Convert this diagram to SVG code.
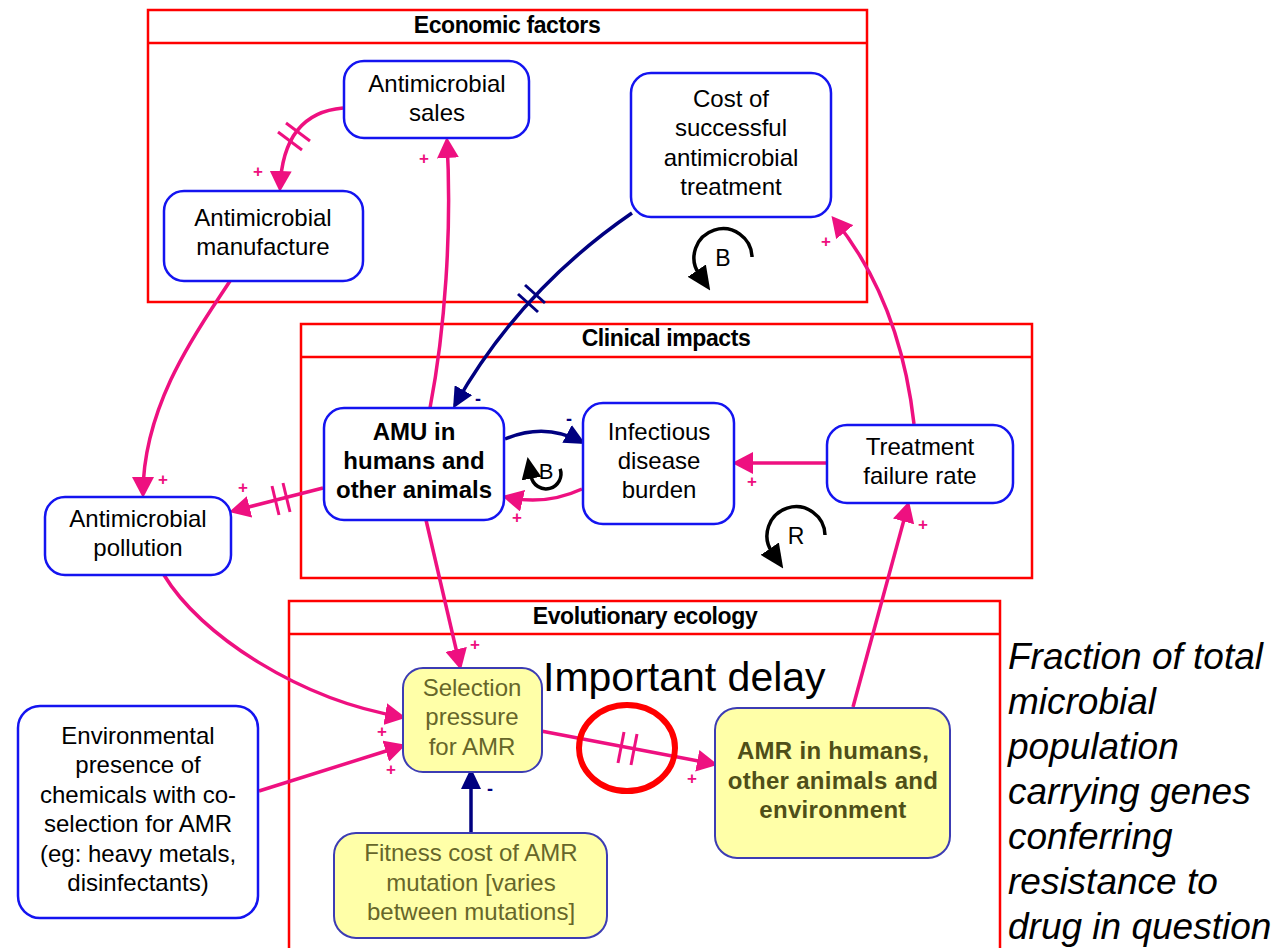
<svg xmlns="http://www.w3.org/2000/svg" width="1276" height="948" viewBox="0 0 1276 948">
<style>
.frame{fill:none;stroke:#FF0000;stroke-width:2.5}
.title{font-family:"Liberation Sans",Arial,sans-serif;font-size:23px;font-weight:bold;letter-spacing:-0.4px;text-anchor:middle;fill:#000}
.node{fill:#FFFFFF;stroke:#1414F0;stroke-width:2.5}
.ynode{fill:#FFFFA8;stroke:#3C3CB4;stroke-width:2}
.t{font-family:"Liberation Sans",Arial,sans-serif;font-size:24px;text-anchor:middle;fill:#000}
.tb{font-weight:bold}
.yt{fill:#66662A}
.ybt{fill:#4F4F18;font-weight:bold;letter-spacing:0.3px}
.pk{fill:none;stroke:#EE1080;stroke-width:3.5}
.nv{fill:none;stroke:#000080;stroke-width:3.5}
.hp{stroke:#EE1080;stroke-width:3}
.hn{stroke:#000080;stroke-width:3}
.loop{fill:none;stroke:#000;stroke-width:3.5}
.lt{font-family:"Liberation Sans",Arial,sans-serif;font-size:23px;text-anchor:middle;fill:#000}
.sp{font-family:"Liberation Sans",Arial,sans-serif;font-size:17px;font-weight:bold;text-anchor:middle;fill:#EE1080}
.sn{font-family:"Liberation Sans",Arial,sans-serif;font-size:18px;font-weight:bold;text-anchor:middle;fill:#000080}
.big{font-family:"Liberation Sans",Arial,sans-serif;font-size:41px;fill:#000}
.it{font-family:"Liberation Sans",Arial,sans-serif;font-size:37px;font-style:italic;fill:#000}
</style>
<defs>
<marker id="ap" viewBox="0 0 21 22" refX="17" refY="11" markerWidth="21" markerHeight="22" markerUnits="userSpaceOnUse" orient="auto"><path d="M0,0 L21,11 L0,22 z" fill="#EE1080"/></marker>
<marker id="an" viewBox="0 0 21 20" refX="17" refY="10" markerWidth="21" markerHeight="20" markerUnits="userSpaceOnUse" orient="auto"><path d="M0,0 L21,10 L0,20 z" fill="#000080"/></marker>
<marker id="ab" viewBox="0 0 24 22" refX="4" refY="11" markerWidth="24" markerHeight="22" markerUnits="userSpaceOnUse" orient="auto"><path d="M0,0 L24,11 L0,22 z" fill="#000"/></marker>
<marker id="abs" viewBox="0 0 22 20" refX="2" refY="10" markerWidth="22" markerHeight="20" markerUnits="userSpaceOnUse" orient="auto"><path d="M0,0 L22,10 L0,20 z" fill="#000"/></marker>
</defs>
<rect width="1276" height="948" fill="#FFFFFF"/>

<g id="frames">
<rect class="frame" x="148" y="10" width="719" height="292"/>
<line class="frame" x1="148" y1="43" x2="867" y2="43"/>
<text class="title" x="507" y="33">Economic factors</text>
<rect class="frame" x="301" y="324" width="731" height="254"/>
<line class="frame" x1="301" y1="357" x2="1032" y2="357"/>
<text class="title" x="666" y="346">Clinical impacts</text>
<path class="frame" d="M289,950 L289,601 L1000,601 L1000,950"/>
<line class="frame" x1="289" y1="634" x2="1000" y2="634"/>
<text class="title" x="645" y="624">Evolutionary ecology</text>
</g>

<g id="connectors">
<path class="pk" d="M343,108 Q283,113 280,188" marker-end="url(#ap)"/>
<line class="hp" x1="278" y1="132" x2="302" y2="150"/>
<line class="hp" x1="286" y1="123" x2="310" y2="141"/>
<path class="pk" d="M430,408 C445,330 452,230 447,141" marker-end="url(#ap)"/>
<path class="nv" d="M632,213 Q520,290 455,405" marker-end="url(#an)"/>
<line class="hn" x1="518" y1="294" x2="538" y2="312"/>
<line class="hn" x1="525" y1="285" x2="545" y2="303"/>
<path class="pk" d="M914,424 Q900,300 834,219" marker-end="url(#ap)"/>
<path class="nv" d="M505,439 Q545,422 582,442" marker-end="url(#an)"/>
<path class="pk" d="M582,489 Q545,506 506,497" marker-end="url(#ap)"/>
<path class="pk" d="M827,463 L736,463" marker-end="url(#ap)"/>
<path class="pk" d="M323,488 L233,511" marker-end="url(#ap)"/>
<line class="hp" x1="272" y1="486" x2="279" y2="515"/>
<line class="hp" x1="283" y1="483" x2="290" y2="512"/>
<path class="pk" d="M230,281 C205,320 143,400 143,494" marker-end="url(#ap)"/>
<path class="pk" d="M164,575 C200,635 300,700 402,717" marker-end="url(#ap)"/>
<path class="pk" d="M259,791 L402,746" marker-end="url(#ap)"/>
<path class="pk" d="M426,520 L460,666" marker-end="url(#ap)"/>
<path class="nv" d="M471,833 L471,772" marker-end="url(#an)"/>
<path class="pk" d="M541,731 L714,764" marker-end="url(#ap)"/>
<line class="hp" x1="624" y1="732" x2="618" y2="763"/>
<line class="hp" x1="637" y1="734" x2="631" y2="765"/>
<path class="pk" d="M853,707 L908,505" marker-end="url(#ap)"/>
</g>

<g id="signs">
<text class="sp" x="258" y="177">+</text>
<text class="sp" x="424" y="164">+</text>
<text class="sp" x="826" y="247">+</text>
<text class="sn" x="478" y="405">-</text>
<text class="sn" x="569" y="425">-</text>
<text class="sp" x="517" y="523">+</text>
<text class="sp" x="752" y="487">+</text>
<text class="sp" x="243" y="493">+</text>
<text class="sp" x="163" y="485">+</text>
<text class="sp" x="382" y="737">+</text>
<text class="sp" x="391" y="775">+</text>
<text class="sp" x="475" y="650">+</text>
<text class="sn" x="490" y="795">-</text>
<text class="sp" x="692" y="784">+</text>
<text class="sp" x="923" y="530">+</text>
</g>

<g id="loops">
<path class="loop" d="M752,257 A29,29 0 1 0 699,274" marker-end="url(#ab)"/>
<text class="lt" x="723" y="266">B</text>
<path class="loop" d="M825,535 A29,29 0 1 0 772,552" marker-end="url(#ab)"/>
<text class="lt" x="796" y="544">R</text>
<path class="loop" d="M560.1,468.9 A15,15 0 1 1 531.2,476.6" marker-end="url(#abs)"/>
<text class="lt" x="546" y="479" style="font-size:22px">B</text>
</g>

<g id="node-antimicrobial-sales">
<rect class="node" x="344" y="61" width="185" height="77" rx="20"/>
<text class="t"><tspan x="437" y="92">Antimicrobial</tspan><tspan x="437" y="121">sales</tspan></text>
</g>
<g id="node-cost">
<rect class="node" x="631" y="73" width="200" height="144" rx="20"/>
<text class="t"><tspan x="731" y="107">Cost of</tspan><tspan x="731" y="136">successful</tspan><tspan x="731" y="166">antimicrobial</tspan><tspan x="731" y="195">treatment</tspan></text>
</g>
<g id="node-manufacture">
<rect class="node" x="164" y="191" width="199" height="90" rx="20"/>
<text class="t"><tspan x="263" y="226">Antimicrobial</tspan><tspan x="263" y="255">manufacture</tspan></text>
</g>
<g id="node-amu">
<rect class="node" x="324" y="408" width="180" height="112" rx="20"/>
<text class="t tb"><tspan x="414" y="440">AMU in</tspan><tspan x="414" y="469">humans and</tspan><tspan x="414" y="498">other animals</tspan></text>
</g>
<g id="node-infectious">
<rect class="node" x="583" y="403" width="151" height="121" rx="20"/>
<text class="t"><tspan x="659" y="440">Infectious</tspan><tspan x="659" y="469">disease</tspan><tspan x="659" y="498">burden</tspan></text>
</g>
<g id="node-treatment">
<rect class="node" x="827" y="425" width="186" height="78" rx="20"/>
<text class="t"><tspan x="920" y="455">Treatment</tspan><tspan x="920" y="484">failure rate</tspan></text>
</g>
<g id="node-pollution">
<rect class="node" x="45" y="497" width="186" height="78" rx="20"/>
<text class="t"><tspan x="138" y="527">Antimicrobial</tspan><tspan x="138" y="556">pollution</tspan></text>
</g>
<g id="node-environmental">
<rect class="node" x="18" y="706" width="240" height="212" rx="22"/>
<text class="t"><tspan x="138" y="744">Environmental</tspan><tspan x="138" y="773">presence of</tspan><tspan x="138" y="803">chemicals with co-</tspan><tspan x="138" y="832">selection for AMR</tspan><tspan x="138" y="862">(eg: heavy metals,</tspan><tspan x="138" y="891">disinfectants)</tspan></text>
</g>
<g id="node-selection">
<rect class="ynode" x="403" y="668" width="139" height="104" rx="20"/>
<text class="t yt"><tspan x="472" y="696">Selection</tspan><tspan x="472" y="725">pressure</tspan><tspan x="472" y="755">for AMR</tspan></text>
</g>
<g id="node-amr">
<rect class="ynode" x="715" y="708" width="235" height="150" rx="22"/>
<text class="t ybt"><tspan x="833" y="759">AMR in humans,</tspan><tspan x="833" y="789">other animals and</tspan><tspan x="833" y="818">environment</tspan></text>
</g>
<g id="node-fitness">
<rect class="ynode" x="334" y="833" width="273" height="105" rx="22"/>
<text class="t yt"><tspan x="471" y="861">Fitness cost of AMR</tspan><tspan x="471" y="891">mutation [varies</tspan><tspan x="471" y="920">between mutations]</tspan></text>
</g>

<g id="annotations">
<text class="big" x="543" y="691">Important delay</text>
<ellipse cx="627" cy="748" rx="48" ry="43" fill="none" stroke="#FF0000" stroke-width="6"/>
<text class="it"><tspan x="1008" y="669">Fraction of total</tspan><tspan x="1008" y="714">microbial</tspan><tspan x="1008" y="759">population</tspan><tspan x="1008" y="804">carrying genes</tspan><tspan x="1008" y="849">conferring</tspan><tspan x="1008" y="894">resistance to</tspan><tspan x="1008" y="939">drug in question</tspan></text>
</g>
</svg>
